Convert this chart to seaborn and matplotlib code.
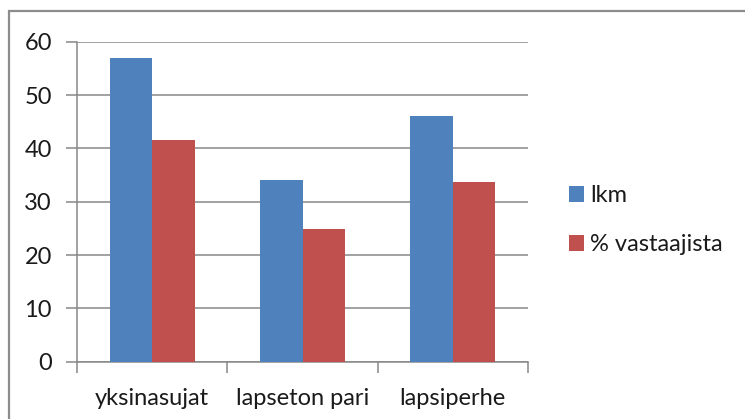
import matplotlib
matplotlib.use("Agg")
import matplotlib.pyplot as plt
from matplotlib.patches import Rectangle, Patch
import seaborn as sns
import pandas as pd

# Household types and survey counts
categories = ["yksinasujat", "lapseton pari", "lapsiperhe"]
series_names = ["lkm", "% vastaajista"]
counts = [57, 34, 46]
percents = [41.6, 24.8, 33.6]
y_ticks = [0, 10, 20, 30, 40, 50, 60]

colors = ["#4F81BD", "#C0504D"]
grid_color = "#878787"
text_color = "#1a1a1a"
fs = 17

df = pd.DataFrame({
    "kategoria": categories * 2,
    "sarja": [series_names[0]] * 3 + [series_names[1]] * 3,
    "arvo": counts + percents,
})

sns.set_theme(style="white")
plt.rcParams["font.family"] = ["Lato", "DejaVu Sans"]

W, H = 745, 419
fig = plt.figure(figsize=(W / 100, H / 100), dpi=100)

# Outer chart frame
fig.patches.append(Rectangle((8.5 / W, -0.1), 1.2, (H - 11.5) / H + 0.1,
                             transform=fig.transFigure, fill=False,
                             edgecolor="#8c8c8c", linewidth=1.6, zorder=0))

left, right, top, bottom = 77, 528, 41.7, 361.7
ax = fig.add_axes([left / W, (H - bottom) / H, (right - left) / W, (bottom - top) / H])

sns.barplot(data=df, x="kategoria", y="arvo", hue="sarja", palette=colors,
            width=0.567, gap=0, saturation=1, ax=ax, legend=False,
            edgecolor="none", linewidth=0, zorder=3)

ax.set_ylim(0, 60)
ax.set_xlim(-0.5, 2.5)
ax.set_yticks(y_ticks)
ax.set_yticklabels([str(v) for v in y_ticks])
ax.yaxis.grid(True, color=grid_color, linewidth=1.1, zorder=0)
ax.set_axisbelow(True)
ax.set_xlabel("")
ax.set_ylabel("")

for s in ["top", "right"]:
    ax.spines[s].set_visible(False)
for s in ["left", "bottom"]:
    ax.spines[s].set_color(grid_color)
    ax.spines[s].set_linewidth(1.1)

ax.tick_params(axis="y", which="major", length=8, width=1.1, color=grid_color,
               labelsize=fs, labelcolor=text_color, pad=10, left=True)
ax.tick_params(axis="x", which="major", length=0, labelsize=fs,
               labelcolor=text_color, pad=19, bottom=True)
ax.set_xticks([-0.5, 0.5, 1.5, 2.5], minor=True)
ax.tick_params(axis="x", which="minor", length=8, width=1.1, color=grid_color,
               bottom=True)

handles = [Patch(facecolor=c, edgecolor="none") for c in colors]
fig.legend(handles, series_names, loc="upper left",
           bbox_to_anchor=(569 / W, 1 - 185 / H), frameon=False,
           fontsize=fs, handlelength=0.64, handleheight=0.64,
           handletextpad=0.25, labelspacing=1.2, borderaxespad=0,
           borderpad=0, labelcolor=text_color)

fig.savefig("out.png", dpi=100)
